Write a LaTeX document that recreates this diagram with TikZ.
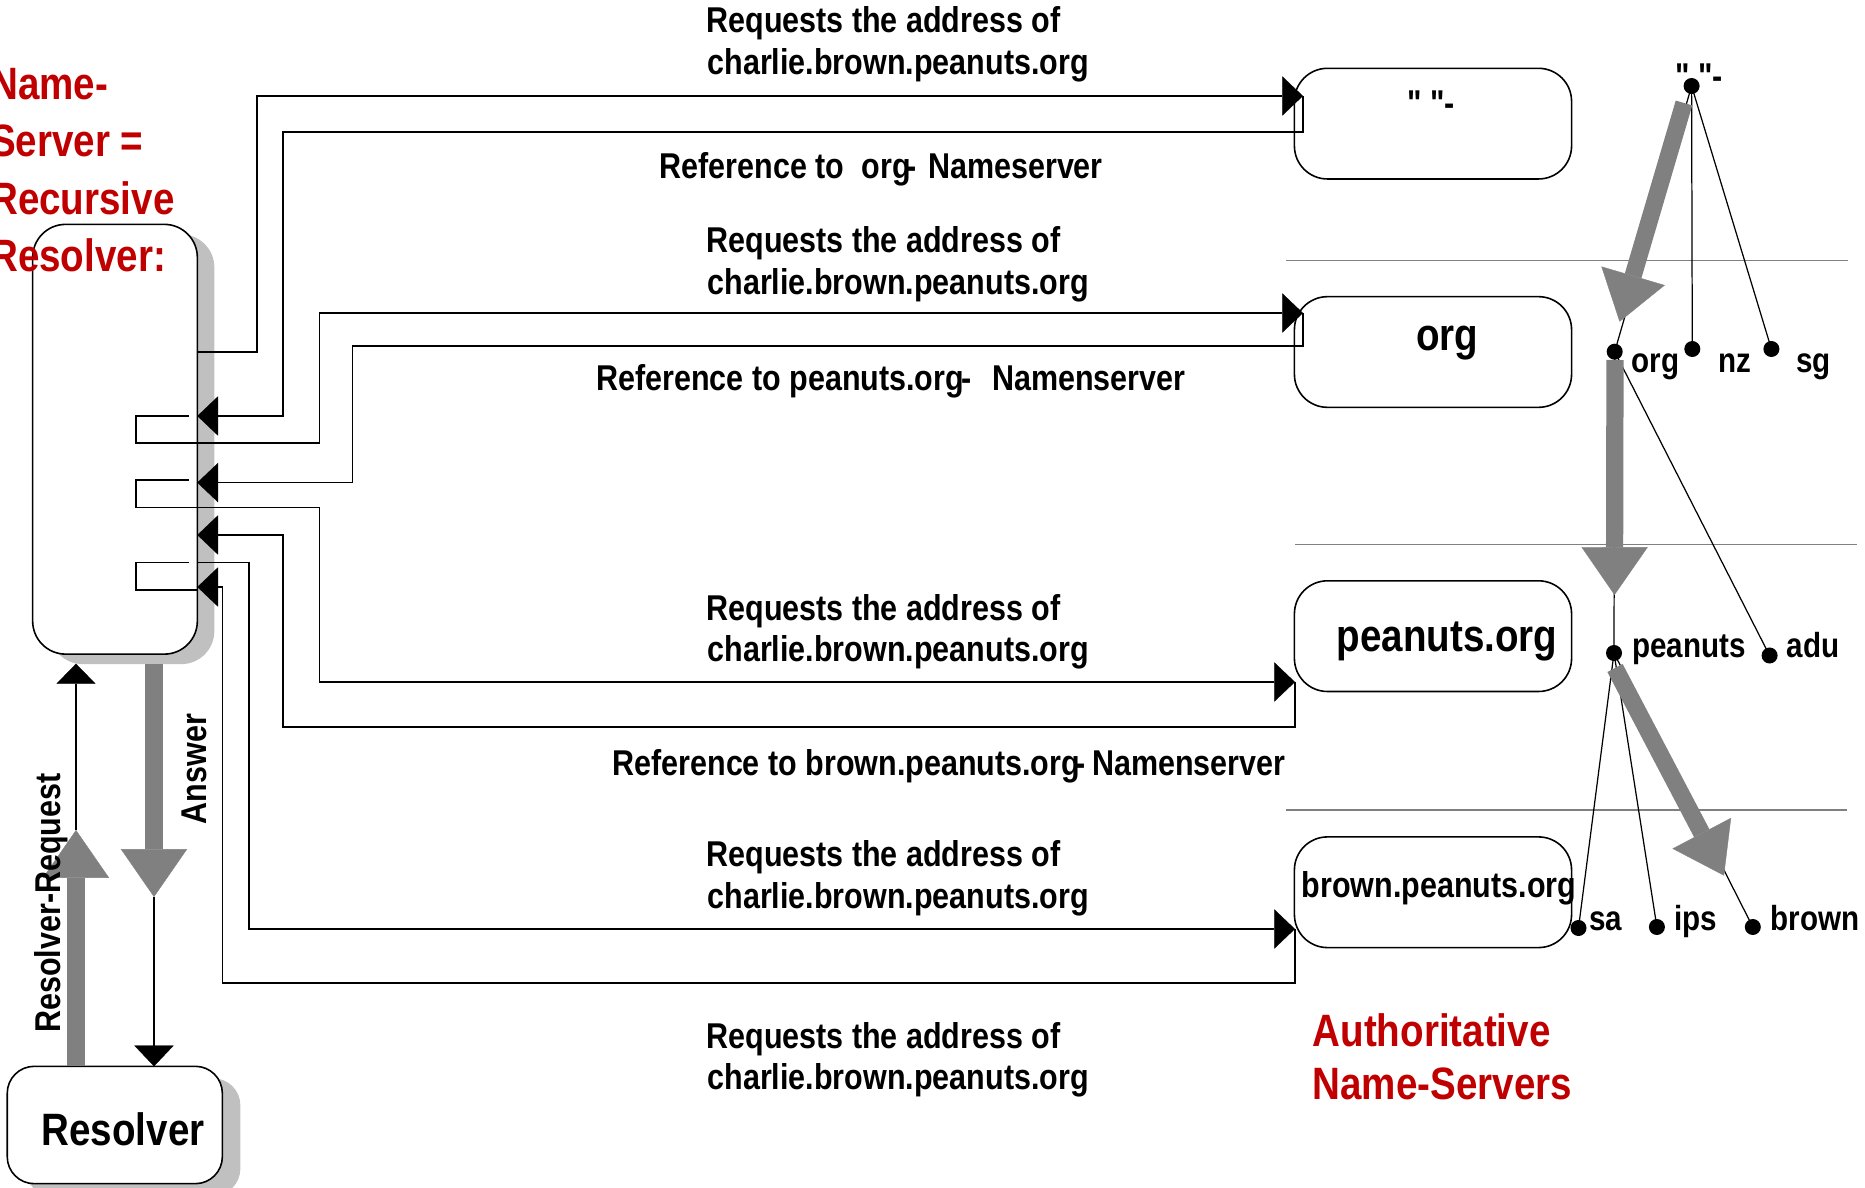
\documentclass[tikz,border=0pt]{standalone}
\usepackage{fontspec}
\newfontfamily\lab[FakeStretch=0.85]{Liberation Sans}
\usetikzlibrary{arrows.meta,shadows}
\definecolor{dred}{RGB}{192,0,0}
\definecolor{shgray}{RGB}{192,192,192}
\definecolor{agray}{RGB}{128,128,128}
\begin{document}
\begin{tikzpicture}[x=0.01cm,y=-0.01cm,
  sm/.style={font=\lab\bfseries\fontsize{10.2}{12}\selectfont, inner sep=0, anchor=base west},
  lg/.style={font=\lab\bfseries\fontsize{12.9}{15}\selectfont, inner sep=0, anchor=base west},
  treelab/.style={font=\lab\bfseries\fontsize{9.9}{12}\selectfont, inner sep=0, anchor=base west},
  redtxt/.style={text=dred},
  conn/.style={draw=black, line width=0.45pt},
  blk/.style={-{Triangle[length=5.9pt,width=11.2pt,line width=0.1pt]}},
  garrow/.style={draw=agray, line width=4.9pt, -{Triangle[length=13.6pt,width=18.8pt,line width=0.1pt]}},
  tline/.style={draw=black, line width=0.35pt},
  sepline/.style={draw=agray, line width=0.45pt},
  tdot/.style={circle, fill=black, inner sep=0, minimum size=0.16cm},
  nsbox/.style={draw=black, line width=0.45pt, rounded corners=3.3mm, minimum width=2.77cm, minimum height=1.106cm, inner sep=0},
]
\useasboundingbox (0,0) rectangle (1865,1188);

% ---------- boxes ----------
\node[draw=black, line width=0.45pt, fill=white, rounded corners=3.3mm,
      minimum width=1.646cm, minimum height=4.295cm, inner sep=0,
      drop shadow={shadow xshift=0.17cm, shadow yshift=-0.10cm, fill=shgray, opacity=1}]
      (srv) at (115,439.25) {};
\node[draw=black, line width=0.45pt, fill=white, rounded corners=2.7mm,
      minimum width=2.15cm, minimum height=1.173cm, inner sep=0,
      drop shadow={shadow xshift=0.18cm, shadow yshift=-0.12cm, fill=shgray, opacity=1}]
      (res) at (114.8,1125) {};
\node[nsbox] (ns0) at (1433,123.65) {};
\node[nsbox] (ns1) at (1433,352) {};
\node[nsbox] (ns2) at (1433,636.15) {};
\node[nsbox] (ns3) at (1433,892.25) {};

% ---------- ports ----------
\coordinate (q1a) at (197.3,352);
\coordinate (q1b) at (1303,96);
\coordinate (q2b) at (1303,313);
\coordinate (q3b) at (1295,682);
\coordinate (q4b) at (1295,929);
\coordinate (a1) at (197.3,416);
\coordinate (a2) at (197.3,482.6);
\coordinate (a3) at (197.3,535);
\coordinate (a4) at (197.3,587);

% ---------- connectors ----------
\draw[conn,blk] (q1a) -- (257,352) -- (257,96) -- (q1b);
\draw[conn,blk] (q1b) -- (1303,132) -- (283,132) -- (283,416) -- (a1);
\draw[conn,blk] (189,416) -- (136,416) -- (136,443) -- (319.7,443) -- (319.7,313) -- (q2b);
\draw[conn,blk] (q2b) -- (1303,346) -- (352.7,346) -- (352.7,482.6) -- (a2);
\draw[conn,blk] (189,480) -- (136,480) -- (136,507.6) -- (319.7,507.6) -- (319.7,682) -- (q3b);
\draw[conn,blk] (q3b) -- (1295,727) -- (283,727) -- (283,535) -- (a3);
\draw[conn] (189,562.5) -- (136,562.5) -- (136,590) -- (197.3,590);
\draw[conn,blk] (197.3,562.5) -- (249,562.5) -- (249,929) -- (q4b);
\draw[conn,blk] (q4b) -- (1295,983) -- (222.3,983) -- (222.3,587) -- (a4);

% ---------- resolver <-> server ----------
\coordinate (rrtip) at (76,830);
\coordinate (srvbot) at (76,663.7);
\coordinate (anstip) at (154,897);
\coordinate (restop) at (154,1066.3);
\draw[garrow] (76,1066.3) -- (rrtip);
\draw[conn,-{Triangle[length=5.7pt,width=11.1pt,line width=0.1pt]}] (rrtip) -- (srvbot);
\draw[garrow] (154,664) -- (anstip);
\draw[conn,blk] (anstip) -- (restop);

% ---------- separators ----------
\draw[sepline] (1285.6,260.6) -- (1848,260.6);
\draw[sepline] (1295,544.7) -- (1856.5,544.7);
\draw[sepline] (1285.6,809.8) -- (1847,809.8);

% ---------- tree ----------
\coordinate (t0) at (1691.6,86);
\coordinate (t1) at (1614.7,351.7);
\coordinate (t2) at (1692.3,349);
\coordinate (t3) at (1771.4,349);
\coordinate (t4) at (1614,653);
\coordinate (t5) at (1769.6,655.5);
\coordinate (t6) at (1578.5,928);
\coordinate (t7) at (1656.9,927);
\coordinate (t8) at (1752.8,927);
\draw[tline] (t0) -- (t1);
\draw[tline] (t0) -- (t2);
\draw[tline] (t0) -- (t3);
\draw[tline] (t1) -- (t4);
\draw[tline] (t1) -- (t5);
\draw[tline] (t4) -- (t6);
\draw[tline] (t4) -- (t7);
\draw[tline] (t4) -- (t8);
\draw[garrow] (1684,103) -- (1619.6,321.7);
\draw[garrow] (1615,360) -- (1614.5,595);
\draw[garrow] (1615,668) -- (1724,875.6);
\foreach \p/\n in {t0/d0,t1/d1,t2/d2,t3/d3,t4/d4,t5/d5,t6/d6,t7/d7,t8/d8}
  \node[tdot] (\n) at (\p) {};

% ---------- tree labels ----------
\node[sm] (tl0) at (1674.5,89) {" "-};
\node[treelab] (tl1) at (1631,373) {org};
\node[treelab] (tl2) at (1718,373) {nz};
\node[treelab] (tl3) at (1795.5,373) {sg};
\node[treelab] (tl4) at (1631.5,657.5) {peanuts};
\node[treelab] (tl5) at (1786,657.5) {adu};
\node[treelab] (tl6) at (1588.5,930) {sa};
\node[treelab] (tl7) at (1673.5,930) {ips};
\node[treelab] (tl8) at (1770,930) {brown};

% ---------- box labels ----------
\node[sm] (bl0) at (1406.5,116) {" "-};
\node[lg] (bl1) at (1415.5,351) {org};
\node[lg] (bl2) at (1336,652) {peanuts.org};
\node[sm] (bl3) at (1301,897) {brown.peanuts.org};
\node[lg] (bl4) at (41,1146) {Resolver};

% ---------- message labels ----------
\node[sm] (m1a) at (705.8,33) {Requests the address of};
\node[sm] (m1b) at (706.8,75) {charlie.brown.peanuts.org};
\node[sm] (m2) at (659,179) {Reference to\hspace{5pt}org\kern-1.4pt-\hspace{3.4pt}Nameserver};
\node[sm] (m3a) at (705.8,253) {Requests the address of};
\node[sm] (m3b) at (706.8,295) {charlie.brown.peanuts.org};
\node[sm] (m4) at (595.7,391) {Reference to peanuts.org\kern-0.6pt-\hspace{5.7pt}Namenserver};
\node[sm] (m5a) at (705.8,620.7) {Requests the address of};
\node[sm] (m5b) at (706.8,662) {charlie.brown.peanuts.org};
\node[sm] (m6) at (611.8,775) {Reference to brown.peanuts.org\kern-1.4pt-\hspace{2pt}Namenserver};
\node[sm] (m7a) at (705.8,866.7) {Requests the address of};
\node[sm] (m7b) at (706.8,909) {charlie.brown.peanuts.org};
\node[sm] (m8a) at (705.8,1048) {Requests the address of};
\node[sm] (m8b) at (706.8,1090) {charlie.brown.peanuts.org};

% ---------- rotated labels ----------
\node[sm, rotate=90, anchor=base] (rrlab) at (60.5,903) {Resolver-Request};
\node[sm, rotate=90, anchor=base] (anslab) at (206.7,769) {Answer};

% ---------- red titles (cut at the left edge as in the reference) ----------
\node[lg,redtxt] (n1) at (-10.5,100) {Name-};
\node[lg,redtxt] (n2) at (-10.5,157) {Server =};
\node[lg,redtxt] (n3) at (-10.5,214.5) {Recursive};
\node[lg,redtxt] (n4) at (-10.5,272) {Resolver:};
\node[lg,redtxt] (au1) at (1312,1046.7) {Authoritative};
\node[lg,redtxt] (au2) at (1312,1100) {Name-Servers};
\end{tikzpicture}
\end{document}
